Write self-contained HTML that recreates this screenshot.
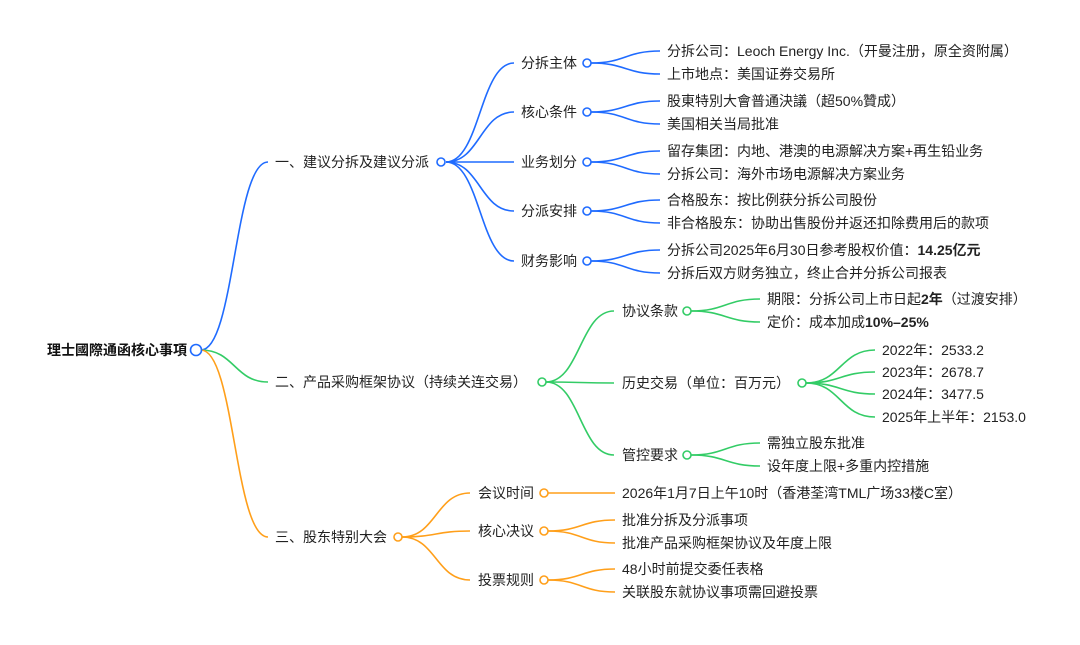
<!DOCTYPE html>
<html><head><meta charset="utf-8"><style>
html,body{margin:0;padding:0;background:#fff;width:1080px;height:645px;overflow:hidden}
svg text{font-family:"Liberation Sans","Noto Sans CJK SC",sans-serif;font-size:14px;fill:#222;dominant-baseline:central}
</style></head><body>
<svg id="s" width="1080" height="645" xmlns="http://www.w3.org/2000/svg">
<g id="lines" fill="none" stroke-width="1.6"></g>
<text x="187" y="350" text-anchor="end" font-weight="bold" style="font-weight:bold;fill:#111">理士國際通函核心事項</text>
<text x="275" y="162">一、建议分拆及建议分派</text>
<text x="275" y="382">二、产品采购框架协议（持续关连交易）</text>
<text x="275" y="537">三、股东特别大会</text>
<text x="521" y="63">分拆主体</text>
<text x="521" y="112">核心条件</text>
<text x="521" y="162">业务划分</text>
<text x="521" y="211">分派安排</text>
<text x="521" y="261">财务影响</text>
<text x="667" y="51">分拆公司：Leoch Energy Inc.（开曼注册，原全资附属）</text>
<text x="667" y="74">上市地点：美国证券交易所</text>
<text x="667" y="101">股東特別大會普通決議（超50%贊成）</text>
<text x="667" y="124">美国相关当局批准</text>
<text x="667" y="151">留存集团：内地、港澳的电源解决方案+再生铅业务</text>
<text x="667" y="174">分拆公司：海外市场电源解决方案业务</text>
<text x="667" y="200">合格股东：按比例获分拆公司股份</text>
<text x="667" y="223">非合格股东：协助出售股份并返还扣除费用后的款项</text>
<text x="667" y="250">分拆公司2025年6月30日参考股权价值：<tspan font-weight="bold">14.25亿元</tspan></text>
<text x="667" y="273">分拆后双方财务独立，终止合并分拆公司报表</text>
<text x="622" y="311">协议条款</text>
<text x="622" y="383">历史交易（单位：百万元）</text>
<text x="622" y="455">管控要求</text>
<text x="767" y="299">期限：分拆公司上市日起<tspan font-weight="bold">2年</tspan>（过渡安排）</text>
<text x="767" y="322">定价：成本加成<tspan font-weight="bold">10%–25%</tspan></text>
<text x="882" y="350">2022年：2533.2</text>
<text x="882" y="372">2023年：2678.7</text>
<text x="882" y="394">2024年：3477.5</text>
<text x="882" y="417">2025年上半年：2153.0</text>
<text x="767" y="443">需独立股东批准</text>
<text x="767" y="466">设年度上限+多重内控措施</text>
<text x="478" y="493">会议时间</text>
<text x="478" y="531">核心决议</text>
<text x="478" y="580">投票规则</text>
<text x="622" y="493">2026年1月7日上午10时（香港荃湾TML广场33楼C室）</text>
<text x="622" y="520">批准分拆及分派事项</text>
<text x="622" y="543">批准产品采购框架协议及年度上限</text>
<text x="622" y="569">48小时前提交委任表格</text>
<text x="622" y="592">关联股东就协议事项需回避投票</text>
<g id="dots" fill="#fff" stroke-width="1.6"></g>
</svg>
<script>
var B="#1f6bff",G="#33cc66",O="#ff9f1a";
var L=document.getElementById("lines"),D=document.getElementById("dots");
function c(x1,y1,x2,y2,col){var p=document.createElementNS("http://www.w3.org/2000/svg","path");var m=(x1+x2)/2;p.setAttribute("d","M"+x1+" "+y1+" C"+m+" "+y1+","+m+" "+y2+","+x2+" "+y2);p.setAttribute("stroke",col);L.appendChild(p);}
function d(x,y,r,col){var e=document.createElementNS("http://www.w3.org/2000/svg","circle");e.setAttribute("cx",x);e.setAttribute("cy",y);e.setAttribute("r",r);e.setAttribute("stroke",col);D.appendChild(e);}
c(201,350,268,162,B);c(201,350,268,382,G);c(201,350,268,537,O);
[63,112,162,211,261].forEach(function(y){c(446,162,514,y,B);d(587,y,4,B);});
[[63,51,74],[112,101,124],[162,151,174],[211,200,223],[261,250,273]].forEach(function(a){c(591,a[0],660,a[1],B);c(591,a[0],660,a[2],B);});
[311,383,455].forEach(function(y){c(546,382,614,y,G);});
d(687,311,4,G);d(802,383,4,G);d(687,455,4,G);
c(691,311,760,299,G);c(691,311,760,322,G);
[350,372,394,417].forEach(function(y){c(806,383,875,y,G);});
c(691,455,760,443,G);c(691,455,760,466,G);
[493,531,580].forEach(function(y){c(402,537,470,y,O);d(544,y,4,O);});
c(548,493,615,493,O);c(548,531,615,520,O);c(548,531,615,543,O);c(548,580,615,569,O);c(548,580,615,592,O);
d(441,162,4,B);d(542,382,4,G);d(398,537,4,O);d(196,350,5.5,B);
</script>
</body></html>
